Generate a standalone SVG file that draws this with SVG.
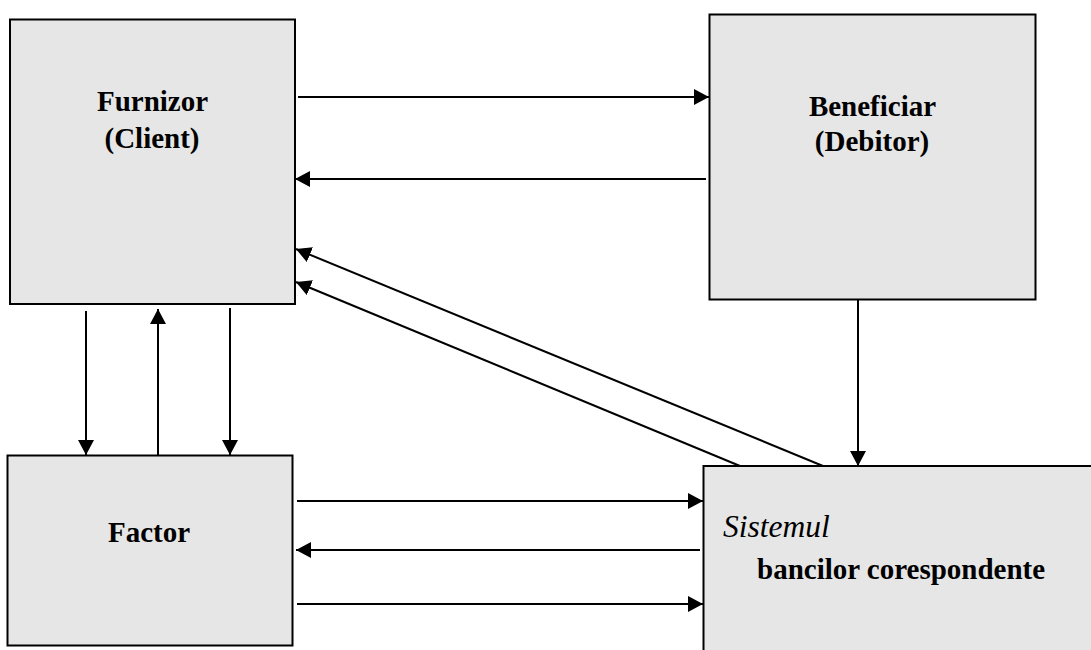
<svg xmlns="http://www.w3.org/2000/svg" width="1091" height="650" viewBox="0 0 1091 650">
<style>
.box{fill:#e6e6e6;stroke:#000;stroke-width:2}
.lbl{font-family:"Liberation Serif","Times New Roman",serif;font-size:29px;font-weight:bold;fill:#000}
.it{font-family:"Liberation Serif","Times New Roman",serif;font-size:31.5px;font-style:italic;fill:#000}
.c line{stroke:#000;stroke-width:2;marker-end:url(#ah)}
</style>
<defs>
<marker id="ah" markerUnits="userSpaceOnUse" markerWidth="15" markerHeight="16" viewBox="0 0 15 16" refX="15" refY="8" orient="auto">
<path d="M0,0 L15,8 L0,16 Z" fill="#000"/>
</marker>
</defs>
<rect width="1091" height="650" fill="#fff"/>
<g id="furnizor">
<rect class="box" x="10" y="19.5" width="285" height="284.5"/>
<text class="lbl" x="152.5" y="111" text-anchor="middle">Furnizor</text>
<text class="lbl" x="152" y="147.5" text-anchor="middle">(Client)</text>
</g>
<g id="beneficiar">
<rect class="box" x="709.5" y="14.5" width="326" height="285"/>
<text class="lbl" x="872.5" y="116" text-anchor="middle">Beneficiar</text>
<text class="lbl" x="872" y="151" text-anchor="middle">(Debitor)</text>
</g>
<g id="factor">
<rect class="box" x="7.5" y="455.5" width="285" height="190"/>
<text class="lbl" x="149" y="542" text-anchor="middle">Factor</text>
</g>
<g id="sistemul">
<rect class="box" x="703.5" y="466" width="420" height="220"/>
<text class="it" x="723" y="537">Sistemul</text>
<text class="lbl" x="757" y="579">bancilor corespondente</text>
</g>
<g class="c" id="connectors">
<line x1="298" y1="97" x2="709" y2="97"/>
<line x1="706" y1="179" x2="295" y2="179"/>
<line x1="823" y1="466" x2="296" y2="249"/>
<line x1="740" y1="466" x2="296" y2="282"/>
<line x1="86" y1="311" x2="86" y2="455"/>
<line x1="158" y1="455" x2="158" y2="309"/>
<line x1="230" y1="308" x2="230" y2="455"/>
<line x1="858" y1="300" x2="858" y2="466"/>
<line x1="297" y1="501" x2="703" y2="501"/>
<line x1="700" y1="550" x2="296" y2="550"/>
<line x1="297" y1="604" x2="703" y2="604"/>
</g>
</svg>
